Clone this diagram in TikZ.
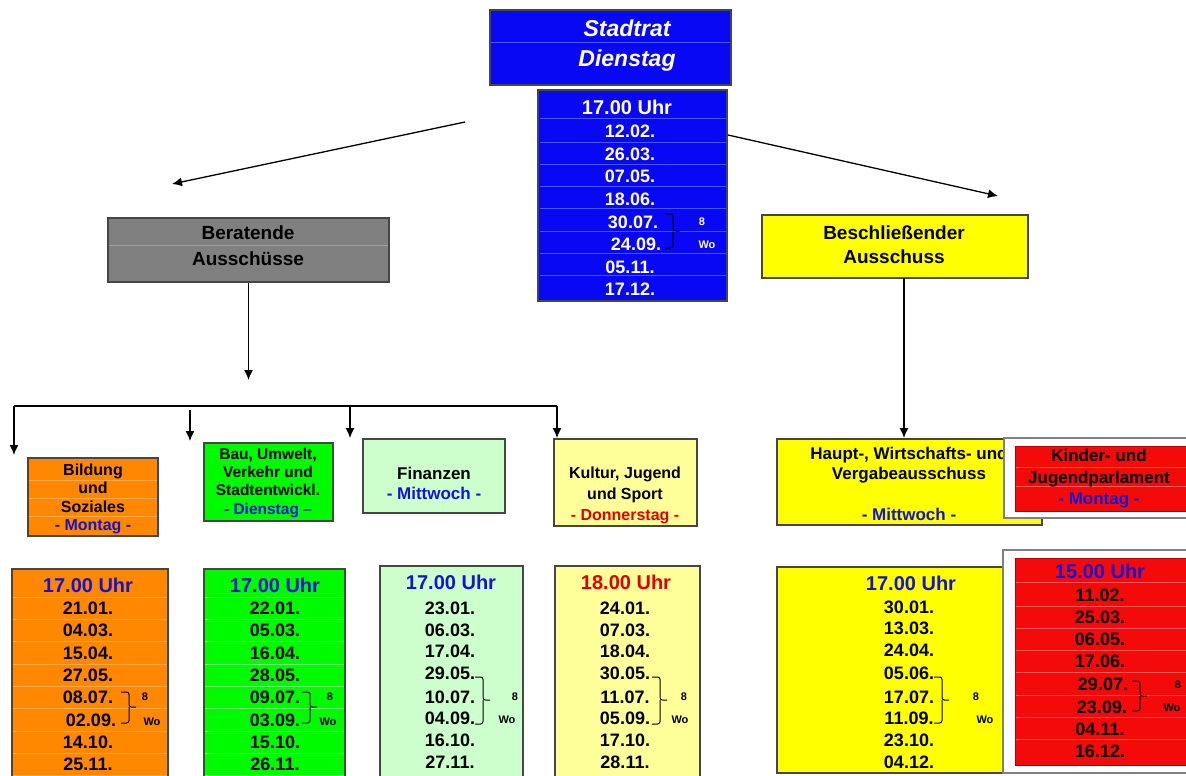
\documentclass[tikz,border=0pt]{standalone}
\usepackage{fontspec}
\setmainfont{Liberation Sans}
\usetikzlibrary{arrows.meta,fit}
\definecolor{sblue}{RGB}{8,8,245}
\definecolor{sblueline}{RGB}{70,90,255}
\definecolor{bgray}{RGB}{128,128,128}
\definecolor{bgrayline}{RGB}{160,160,160}
\definecolor{corange}{RGB}{255,136,0}
\definecolor{orangeline}{RGB}{255,170,70}
\definecolor{cgreen}{RGB}{0,250,0}
\definecolor{greenline}{RGB}{110,255,110}
\definecolor{cpale}{RGB}{204,255,204}
\definecolor{clyellow}{RGB}{255,255,153}
\definecolor{cyellow}{RGB}{255,255,0}
\definecolor{cred}{RGB}{245,10,10}
\definecolor{redline}{RGB}{252,90,90}
\definecolor{tblue}{RGB}{20,20,210}
\definecolor{tred}{RGB}{225,0,0}
\definecolor{boxline}{RGB}{70,70,70}
\newcommand\wob[4]{%
  \draw[brc] (#1,#2) -| (#1+8,#3) -- (#1+15,#3);
  \draw[brc] (#1+8,#3) |- (#1,#4);}
\begin{document}
\begin{tikzpicture}[x=1pt,y=-1pt,
  box/.style={draw=boxline,line width=1.1pt,inner sep=0pt},
  tx/.style={inner sep=0pt,text height=11.5pt,text depth=0pt,font=\bfseries\fontsize{16}{19}\selectfont},
  ta/.style={inner sep=0pt,text height=11.2pt,text depth=0pt,font=\bfseries\fontsize{15.5}{18}\selectfont},
  tb/.style={inner sep=0pt,text height=12.2pt,text depth=0pt,font=\bfseries\fontsize{17}{20}\selectfont},
  big/.style={inner sep=0pt,text height=13.7pt,text depth=0pt,font=\bfseries\fontsize{19}{23}\selectfont},
  hd/.style={inner sep=0pt,text height=14.4pt,text depth=0pt,font=\bfseries\fontsize{20}{24}\selectfont},
  dt/.style={inner sep=0pt,text height=13pt,text depth=0pt,font=\bfseries\fontsize{18}{21}\selectfont},
  wo/.style={inner sep=0pt,text height=7.9pt,text depth=0pt,font=\bfseries\fontsize{11}{13}\selectfont},
  ti/.style={inner sep=0pt,text height=16.6pt,text depth=0pt,font=\bfseries\itshape\fontsize{23}{27}\selectfont},
  arr/.style={line width=1.3pt,-{Latex[length=10pt,width=9pt]}},
  rowline/.style={line width=0.6pt},
  brc/.style={line width=1pt,rounded corners=2.5pt}]
\useasboundingbox (0,0) rectangle (1186,776);
\clip (0,0) rectangle (1186,776);
\fill[white] (0,0) rectangle (1186,776);

% ---------- Stadtrat ----------
\node[box,fill=sblue,fit={(490,10)(731,85)}] (srh) {};
\draw[rowline,draw=sblueline] (491,42) -- (730,42);
\node[ti,text=white] (srt1) at (627,28) {Stadtrat};
\node[ti,text=white] (srt2) at (627,58) {Dienstag};

\node[box,fill=sblue,fit={(538,90)(727,301)}] (srtab) {};
\foreach \y in {118,142,164,186,208,231,253,275}
  \draw[rowline,draw=sblueline] (539.5,\y) -- (725.5,\y);
\node[hd,text=white] (sr0) at (627,107) {17.00 Uhr};
\foreach \n/\x/\y/\d in {1/630/131/12.02.,2/630/154/26.03.,3/630/176/07.05.,4/630/199/18.06.,
  5/633/222/30.07.,6/636/244/24.09.,7/630/267/05.11.,8/630/289/17.12.}
  \node[dt,text=white] (sr\n) at (\x,\y) {\d};
\wob{665}{214}{231}{248}
\node[wo,text=white] (srw8) at (702,222) {8};
\node[wo,text=white] (srwo) at (707,245) {Wo};

% arrows from Stadtrat
\coordinate (srL) at (465,122);
\coordinate (tipL) at (172,184);
\coordinate (srR) at (728,135);
\coordinate (tipR) at (998,196);
\draw[arr] (srL) -- (tipL);
\draw[arr] (srR) -- (tipR);

% ---------- Beratende ----------
\node[box,fill=bgray,fit={(108,218)(389,282)}] (ber) {};
\draw[rowline,draw=bgrayline] (109,245) -- (388,245);
\node[big] (bert1) at (248,233) {Beratende};
\node[big] (bert2) at (248,259) {Ausschüsse};
\coordinate (berTip) at (248.5,380);
\draw[arr] (ber.south) -- (berTip);

% bus
\coordinate (busL) at (14,406);
\coordinate (busR) at (557,406);
\coordinate (bus2) at (190,410);
\coordinate (bus3) at (350,406);
\coordinate (tip1) at (14,455);
\coordinate (tip2) at (190,441);
\coordinate (tip3) at (350,438);
\coordinate (tip4) at (557,438);
\draw[line width=1.3pt] (busL) -- (busR);
\draw[arr] (busL) -- (tip1);
\draw[arr] (bus2) -- (tip2);
\draw[arr] (bus3) -- (tip3);
\draw[arr] (busR) -- (tip4);

% ---------- Beschliessender ----------
\node[box,fill=cyellow,fit={(762,215)(1028,278)}] (bes) {};
\node[big] (best1) at (894,233) {Beschließender};
\node[big] (best2) at (894,257) {Ausschuss};
\coordinate (besA) at (904,278);
\coordinate (besTip) at (904,438);
\draw[arr] (besA) -- (besTip);

% ---------- committee boxes ----------
\node[box,fill=corange,fit={(28,458)(158,536)}] (bil) {};
\foreach \y in {480,498,516} \draw[rowline,draw=orangeline] (29,\y) -- (157,\y);
\node[tx] (bil1) at (93,470) {Bildung};
\node[tx] (bil2) at (93,488) {und};
\node[tx] (bil3) at (93,507) {Soziales};
\node[tx,text=tblue] (bil4) at (93,525) {- Montag -};

\node[box,fill=cgreen,fit={(204,443)(333,521)}] (bau) {};
\node[ta] (bau1) at (268,454) {Bau, Umwelt,};
\node[ta] (bau2) at (268,472) {Verkehr und};
\node[ta] (bau3) at (268,490) {Stadtentwickl.};
\node[ta,text=tblue] (bau4) at (268,509) {- Dienstag –};

\node[box,fill=cpale,fit={(363,439)(505,513)}] (fin) {};
\node[tb] (fin1) at (434,473) {Finanzen};
\node[tb,text=tblue] (fin2) at (434,493) {- Mittwoch -};

\node[box,fill=clyellow,fit={(554,439)(697,526)}] (kul) {};
\node[tx] (kul1) at (625,473) {Kultur, Jugend};
\node[tx] (kul2) at (625,494) {und Sport};
\node[tx,text=tred] (kul3) at (625,515) {- Donnerstag -};

\node[box,fill=cyellow,fit={(777,439)(1042,525)}] (hau) {};
\node[tb] (hau1) at (909,453) {Haupt-, Wirtschafts- und};
\node[tb] (hau2) at (909,473) {Vergabeausschuss};
\node[tb,text=tblue] (hau3) at (909,514) {- Mittwoch -};

\node[box,draw=gray,fill=white,fit={(1004,438)(1200,518)}] (kinw) {};
\node[inner sep=0pt,draw=red!70!black,line width=0.6pt,fill=cred,fit={(1015,446)(1200,511)}] (kin) {};
\foreach \y in {467,486} \draw[rowline,draw=redline] (1016,\y) -- (1190,\y);
\node[tb] (kin1) at (1099,455) {Kinder- und};
\node[tb] (kin2) at (1099,477) {Jugendparlament};
\node[tb,text=tblue] (kin3) at (1099,498) {- Montag -};

% ---------- date tables ----------
% Bildung
\node[box,fill=corange,fit={(12,569)(168,800)}] (bilT) {};
\foreach \y in {597,619,641,664,686,708,731,753,775} \draw[rowline,draw=orangeline] (13,\y) -- (167,\y);
\node[hd,text=tblue] (bilH) at (88,585) {17.00 Uhr};
\foreach \n/\x/\y/\d in {1/88/608/21.01.,2/88/630/04.03.,3/88/653/15.04.,4/88/675/27.05.,
  5/88/697/08.07.,6/91/720/02.09.,7/88/742/14.10.,8/88/764/25.11.}
  \node[dt] (bilD\n) at (\x,\y) {\d};
\wob{121}{692}{707}{723}
\node[wo] (bil8) at (145,697) {8};
\node[wo] (bilWo) at (152,722) {Wo};

% Bau
\node[box,fill=cgreen,fit={(204,569)(345,800)}] (bauT) {};
\foreach \y in {597,619,641,664,686,708,731,753,775} \draw[rowline,draw=greenline] (205,\y) -- (344,\y);
\node[hd,text=tblue] (bauH) at (275,585) {17.00 Uhr};
\foreach \n/\y/\d in {1/608/22.01.,2/630/05.03.,3/653/16.04.,4/675/28.05.,
  5/697/09.07.,6/720/03.09.,7/742/15.10.,8/764/26.11.}
  \node[dt] (bauD\n) at (275,\y) {\d};
\wob{302}{692}{707}{723}
\node[wo] (bau8) at (330,697) {8};
\node[wo] (bauWo) at (328,722) {Wo};

% Finanzen
\node[box,fill=cpale,fit={(380,566)(523,800)}] (finT) {};
\node[hd,text=tblue] (finH) at (451,582) {17.00 Uhr};
\foreach \n/\y/\d in {1/608/23.01.,2/630/06.03.,3/651/17.04.,4/673/29.05.,
  5/697/10.07.,6/718/04.09.,7/740/16.10.,8/762/27.11.}
  \node[dt] (finD\n) at (450,\y) {\d};
\wob{475}{677}{700}{724}
\node[wo] (fin8) at (515,697) {8};
\node[wo] (finWo) at (507,720) {Wo};

% Kultur
\node[box,fill=clyellow,fit={(555,566)(700,800)}] (kulT) {};
\node[hd,text=tred] (kulH) at (626,582) {18.00 Uhr};
\foreach \n/\y/\d in {1/608/24.01.,2/630/07.03.,3/651/18.04.,4/673/30.05.,
  5/697/11.07.,6/718/05.09.,7/740/17.10.,8/762/28.11.}
  \node[dt] (kulD\n) at (625,\y) {\d};
\wob{652}{677}{700}{724}
\node[wo] (kul8) at (684,697) {8};
\node[wo] (kulWo) at (680,720) {Wo};

% Haupt
\node[box,fill=cyellow,fit={(777,567)(1042,773)}] (hauT) {};
\node[hd,text=tblue] (hauH) at (911,583) {17.00 Uhr};
\foreach \n/\y/\d in {1/607/30.01.,2/628/13.03.,3/650/24.04.,4/673/05.06.,
  5/697/17.07.,6/718/11.09.,7/740/23.10.,8/762/04.12.}
  \node[dt] (hauD\n) at (909,\y) {\d};
\wob{934}{677}{700}{723}
\node[wo] (hau8) at (976,697) {8};
\node[wo] (hauWo) at (985,720) {Wo};

% Kinder
\node[box,draw=gray,fill=white,fit={(1003,550)(1200,773)}] (kinTw) {};
\node[inner sep=0pt,draw=red!70!black,line width=0.6pt,fill=cred,fit={(1015,558)(1200,765)}] (kinT) {};
\foreach \y in {582,606,628,650,672,695,717,739} \draw[rowline,draw=redline] (1016,\y) -- (1190,\y);
\node[hd,text=tblue] (kinH) at (1100,571) {15.00 Uhr};
\foreach \n/\x/\y/\d in {1/1100/595/11.02.,2/1100/617/25.03.,3/1100/639/06.05.,4/1100/661/17.06.,
  5/1103/684/29.07.,6/1102/707/23.09.,7/1100/729/04.11.,8/1100/751/16.12.}
  \node[dt] (kinD\n) at (\x,\y) {\d};
\wob{1132}{681}{696}{711}
\node[wo] (kin8) at (1178,685) {8};
\node[wo] (kinWo) at (1172,708) {Wo};
\end{tikzpicture}
\end{document}
